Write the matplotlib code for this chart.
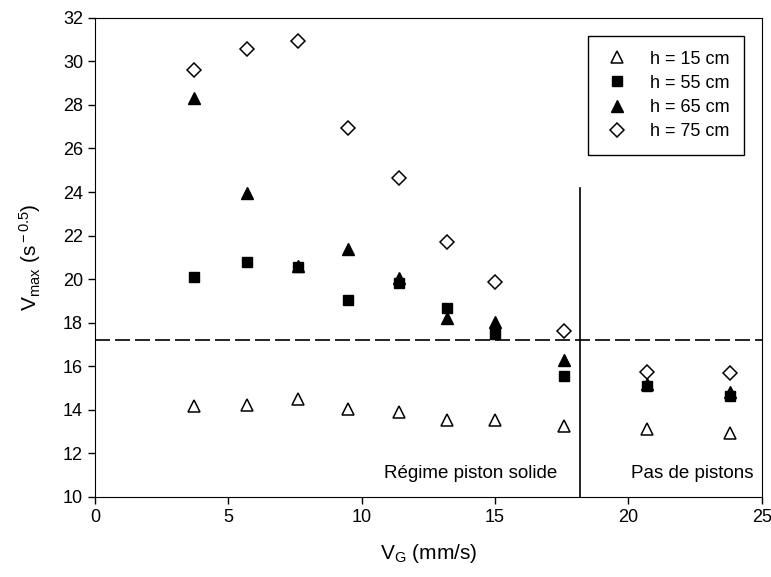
import numpy as np
import matplotlib
matplotlib.use('Agg')
import matplotlib.pyplot as plt

plt.rcParams['font.family'] = ['Liberation Sans', 'DejaVu Sans']
plt.rcParams['mathtext.fontset'] = 'custom'
plt.rcParams['mathtext.rm'] = 'Liberation Sans'
plt.rcParams['mathtext.it'] = 'Liberation Sans'

# vitesse du gaz (mm/s)
vg = [3.7, 5.7, 7.6, 9.5, 11.4, 13.2, 15.0, 17.6, 20.7, 23.8]

# Vmax pour chaque hauteur
h15 = [14.15, 14.2, 14.5, 14.05, 13.9, 13.55, 13.55, 13.25, 13.1, 12.95]
h55 = [20.1, 20.8, 20.55, 19.05, 19.8, 18.65, 17.5, 15.55, 15.1, 14.65]
h65 = [28.3, 23.95, 20.6, 21.4, 20.05, 18.2, 18.05, 16.3, 15.2, 14.8]
h75 = [29.6, 30.55, 30.95, 26.95, 24.65, 21.7, 19.85, 17.6, 15.75, 15.7]

v_seuil = 17.2   # limite horizontale
vg_seuil = 18.2  # limite des régimes

fig = plt.figure(figsize=(7.71, 5.77), dpi=100)
ax = fig.add_axes([0.123, 0.139, 0.865, 0.83])

ax.plot(vg, h15, '^', ms=8.5, mfc='white', mec='black', mew=1.1, ls='none', label='h = 15 cm')
ax.plot(vg, h55, 's', ms=7.5, mfc='black', mec='black', ls='none', label='h = 55 cm')
ax.plot(vg, h65, '^', ms=8.5, mfc='black', mec='black', ls='none', label='h = 65 cm')
ax.plot(vg, h75, 'D', ms=7.5, mfc='white', mec='black', mew=1.1, ls='none', label='h = 75 cm')

ax.axhline(v_seuil, color='black', lw=1.2, ls=(0, (9, 3)))
ax.plot([vg_seuil, vg_seuil], [10, 24.2], color='black', lw=1.2)

ax.text(17.35, 10.7, 'Régime piston solide', ha='right', va='bottom', fontsize=13.5)
ax.text(24.7, 10.7, 'Pas de pistons', ha='right', va='bottom', fontsize=13.5)

ax.set_xlim(0, 25)
ax.set_ylim(10, 32)
ax.set_xticks(np.arange(0, 26, 5))
ax.set_yticks(np.arange(10, 33, 2))
ax.tick_params(direction='out', labelsize=13, length=5, width=1)
ax.set_xlabel(r'V$_{\rm G}$ (mm/s)', fontsize=15, labelpad=12)
ax.set_ylabel(r'V$_{\rm max}$ (s$^{\rm -0.5}$)', fontsize=15, labelpad=14)

leg = ax.legend(loc='upper right', bbox_to_anchor=(0.973, 0.962), borderaxespad=0,
                fontsize=13, frameon=True, fancybox=False, edgecolor='black',
                framealpha=1, handlelength=1.6, handletextpad=1.0,
                borderpad=0.8, labelspacing=0.4)
leg.get_frame().set_linewidth(1.0)

plt.savefig('out.png', dpi=100)
